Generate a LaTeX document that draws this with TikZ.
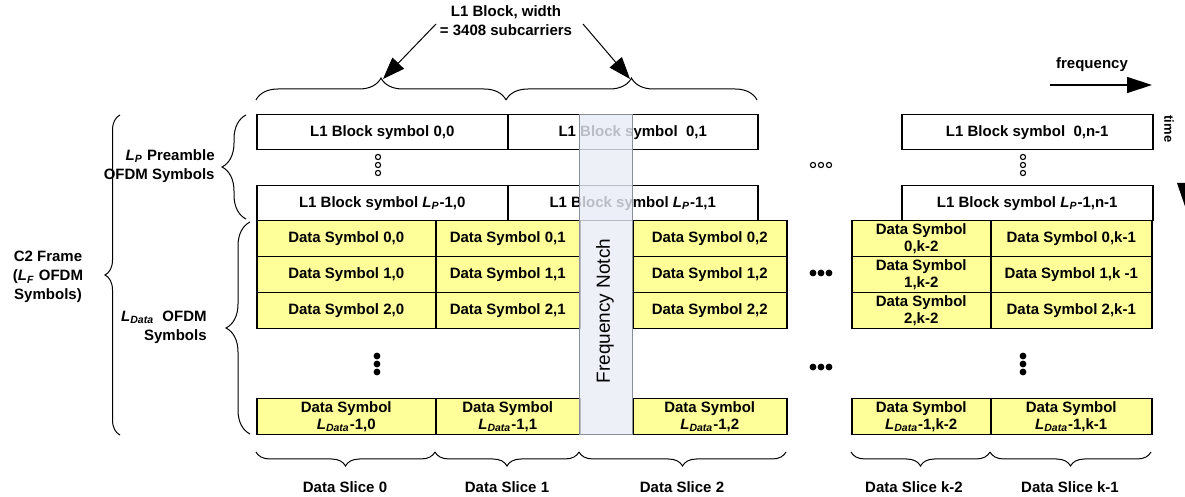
\documentclass[tikz,border=0pt]{standalone}
\usepackage{fontspec}
\setmainfont{Liberation Sans}
\usetikzlibrary{decorations.pathreplacing,arrows.meta}
\definecolor{cellyellow}{HTML}{FFFF99}
\definecolor{notchfill}{HTML}{E8ECF5}
\definecolor{notchdraw}{HTML}{8A8F99}
\newcommand{\Lsub}[1]{\textit{L}\textsubscript{\textit{#1}}}
\newcommand{\mycell}[6]{\node[#1, minimum width=#4*0.5pt, minimum height=#5*0.5pt, anchor=north west] (#2) at (#3) {#6};}
\tikzset{
  base/.style={font=\bfseries\fontsize{7.5}{8.5}\selectfont, align=center, inner sep=0pt},
  l1box/.style={base, draw, line width=0.75pt, fill=white},
  datacell/.style={base, draw, line width=0.75pt, fill=cellyellow},
  bracepath/.style={decorate, line width=0.5pt},
  lbl/.style={base, font=\bfseries\fontsize{7.5}{9.5}\selectfont},
  opendot/.style={draw, line width=0.55pt, fill=white},
}
\begin{document}
\begin{tikzpicture}[x=0.5pt,y=-0.5pt]
\useasboundingbox (0,0) rectangle (1185,497);
\clip (0,0) rectangle (1185,497);

% L1 block symbols
\mycell{l1box}{a00}{256,114}{251}{35}{L1 Block symbol 0,0}
\mycell{l1box}{a01}{507,114}{250}{35}{L1 Block symbol\ \ 0,1}
\mycell{l1box}{a0n}{901,114}{251}{35}{L1 Block symbol\ \ 0,n-1}
\mycell{l1box}{ap0}{256,185}{251}{35}{L1 Block symbol \Lsub{P}-1,0}
\mycell{l1box}{ap1}{507,185}{250}{35}{L1 Block symbol \Lsub{P}-1,1}
\mycell{l1box}{apn}{901,185}{251}{35}{L1 Block symbol \Lsub{P}-1,n-1}

% data rows
\mycell{datacell}{d00}{256,220}{179}{36}{Data Symbol 0,0}
\mycell{datacell}{d01}{435,220}{144}{36}{Data Symbol 0,1}
\mycell{datacell}{d02}{632,220}{154}{36}{Data Symbol 0,2}
\mycell{datacell}{d0a}{851,220}{139}{36}{Data Symbol\\0,k-2}
\mycell{datacell}{d0b}{990,220}{161}{36}{Data Symbol 0,k-1}

\mycell{datacell}{d10}{256,256}{179}{36}{Data Symbol 1,0}
\mycell{datacell}{d11}{435,256}{144}{36}{Data Symbol 1,1}
\mycell{datacell}{d12}{632,256}{154}{36}{Data Symbol 1,2}
\mycell{datacell}{d1a}{851,256}{139}{36}{Data Symbol\\1,k-2}
\mycell{datacell}{d1b}{990,256}{161}{36}{Data Symbol 1,k -1}

\mycell{datacell}{d20}{256,292}{179}{36}{Data Symbol 2,0}
\mycell{datacell}{d21}{435,292}{144}{36}{Data Symbol 2,1}
\mycell{datacell}{d22}{632,292}{154}{36}{Data Symbol 2,2}
\mycell{datacell}{d2a}{851,292}{139}{36}{Data Symbol\\2,k-2}
\mycell{datacell}{d2b}{990,292}{161}{36}{Data Symbol 2,k-1}

\mycell{datacell}{dl0}{256,398}{179}{36}{Data Symbol\\\Lsub{Data}-1,0}
\mycell{datacell}{dl1}{435,398}{144}{36}{Data Symbol\\\Lsub{Data}-1,1}
\mycell{datacell}{dl2}{632,398}{154}{36}{Data Symbol\\\Lsub{Data}-1,2}
\mycell{datacell}{dla}{851,398}{139}{36}{Data Symbol\\\Lsub{Data}-1,k-2}
\mycell{datacell}{dlb}{990,398}{161}{36}{Data Symbol\\\Lsub{Data}-1,k-1}

% frequency notch
\node[draw=notchdraw, line width=0.6pt, fill=notchfill, fill opacity=0.8, minimum width=53*0.5pt, minimum height=320*0.5pt, anchor=north west, inner sep=0pt] (notch) at (579,114) {};
\node[rotate=90, font=\fontsize{9.5}{11}\selectfont, inner sep=0pt] (notchlabel) at (605,311) {Frequency Notch};

% title and arrows to top braces
\node[lbl] (title) at (506,21) {L1 Block, width\\= 3408 subcarriers};
\coordinate (b1a) at (256,100); \coordinate (b1b) at (506,100);
\coordinate (b2a) at (506,100); \coordinate (b2b) at (757,100);
\draw[bracepath, decoration={brace, amplitude=11pt}] (b1a) -- (b1b);
\draw[bracepath, decoration={brace, amplitude=11pt}] (b2a) -- (b2b);
\coordinate (t1s) at (436,24); \coordinate (t1e) at (383,79);
\coordinate (t2s) at (583,24); \coordinate (t2e) at (630,79);
\draw[line width=0.5pt, -{Triangle[length=11pt,width=8pt]}] (t1s) -- (t1e);
\draw[line width=0.5pt, -{Triangle[length=11pt,width=8pt]}] (t2s) -- (t2e);

% frequency / time
\node[lbl] (freq) at (1092,65) {frequency};
\coordinate (f0) at (1050,85); \coordinate (f1) at (1152,85);
\draw[line width=0.65pt, -{Triangle[length=12.5pt,width=8pt]}] (f0) -- (f1);
\node[base, rotate=-90, font=\bfseries\fontsize{6.5}{8}\selectfont] (time) at (1169,129) {time};
\fill (1177,183) -- (1201,183) -- (1189,218) -- cycle;

% left braces and labels
\draw[bracepath, decoration={brace, amplitude=7.5pt}] (120,435) -- (120,115);
\draw[bracepath, decoration={brace, amplitude=12pt}] (246,219) -- (246,115);
\draw[bracepath, decoration={brace, amplitude=12pt}] (250,434) -- (250,222);
\node[lbl] (c2) at (48,277) {C2 Frame\\(\Lsub{F} OFDM\\Symbols)};
\node[lbl, align=right, anchor=east] (lp) at (215,166) {\Lsub{P} Preamble\\OFDM Symbols};
\node[lbl, align=right, anchor=east] (ldata) at (207,327) {\Lsub{Data}\ \ OFDM\\Symbols};

% bottom braces and slice labels
\draw[bracepath, decoration={brace, amplitude=7pt}] (435,452) -- (256,452);
\draw[bracepath, decoration={brace, amplitude=7pt}] (579,452) -- (435,452);
\draw[bracepath, decoration={brace, amplitude=7pt}] (786,452) -- (579,452);
\draw[bracepath, decoration={brace, amplitude=7pt}] (990,452) -- (851,452);
\draw[bracepath, decoration={brace, amplitude=7pt}] (1151,452) -- (990,452);
\node[lbl] (s0) at (345,487) {Data Slice 0};
\node[lbl] (s1) at (507,487) {Data Slice 1};
\node[lbl] (s2) at (682,487) {Data Slice 2};
\node[lbl] (sa) at (914,487) {Data Slice k-2};
\node[lbl] (sb) at (1070,487) {Data Slice k-1};

% ellipsis dots
\foreach \y in {157,165,173} {
  \draw[opendot] (378,\y) circle[radius=1.3pt];
  \draw[opendot] (1023,\y) circle[radius=1.3pt];
}
\foreach \x in {813,821,829} {
  \draw[opendot] (\x,165) circle[radius=1.3pt];
  \fill (\x,273) circle[radius=1.7pt];
  \fill (\x,367) circle[radius=1.7pt];
}
\foreach \y in {356,364,372} {
  \fill (377,\y) circle[radius=1.7pt];
  \fill (1023,\y) circle[radius=1.7pt];
}
\end{tikzpicture}
\end{document}
